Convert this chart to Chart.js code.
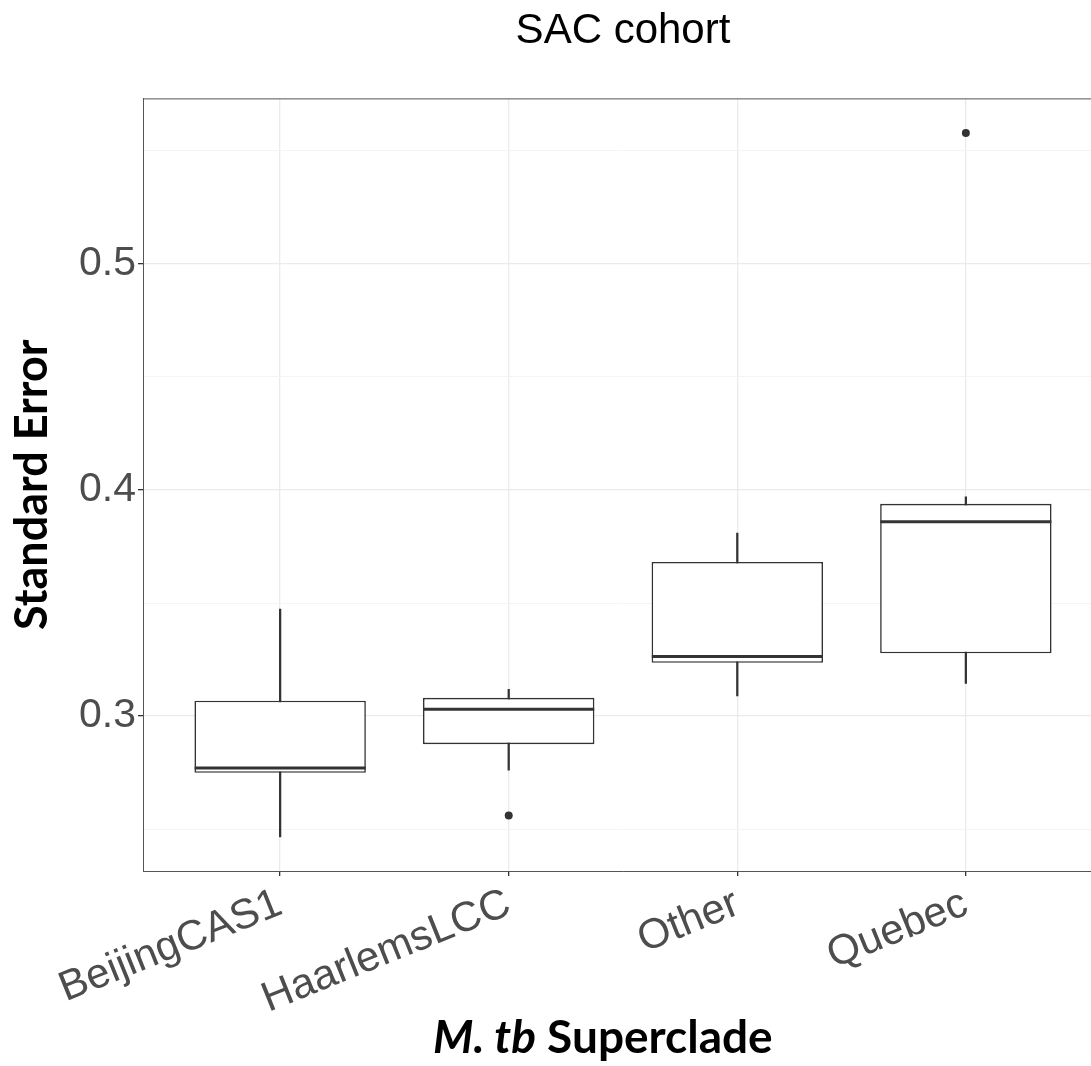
<!DOCTYPE html>
<html>
<head>
<meta charset="utf-8">
<title>SAC cohort</title>
<script src="https://cdn.jsdelivr.net/npm/chart.js@4/dist/chart.umd.min.js"></script>
<style>
  html, body { margin: 0; padding: 0; background: #fff; overflow: hidden; }
  #frame { position: relative; width: 1091px; height: 1066px; overflow: hidden; }
  /* panel runs a little past the right edge of the page */
  #wrap { position: absolute; left: 0; top: 0; width: 1103px; height: 1066px; }
  #xTitle {
    position: absolute; left: 433px; top: 1008px;
    font-family: Lato, "Open Sans", sans-serif; font-weight: bold; font-size: 46px;
    color: #000; white-space: nowrap; line-height: 56px;
  }
</style>
</head>
<body>
<div id="frame">
  <div id="wrap"><canvas id="chart"></canvas></div>
  <div id="xTitle"><i>M. tb</i> Superclade</div>
</div>
<script>
// Superclades and their box-plot summaries (standard error)
const clades = ["BeijingCAS1", "HaarlemsLCC", "Other", "Quebec"];
const lowWhisker = [0.2466, 0.2761, 0.3089, 0.3145];
const q1 = [0.2749, 0.2876, 0.3236, 0.3278];
const medians = [0.2771, 0.3030, 0.3264, 0.3860];
const q3 = [0.3068, 0.3081, 0.3682, 0.3939];
const highWhisker = [0.3473, 0.3118, 0.3809, 0.3970];
// outliers: [clade index, value]
const outliers = [[1, 0.2561], [3, 0.5579]];

const yTicks = [0.25, 0.3, 0.35, 0.4, 0.45, 0.5, 0.55];
const yMajor = [0.3, 0.4, 0.5];

const ink = "#333333";
const pos = clades.map((c, i) => i + 1);

const isMajor = v => yMajor.some(m => Math.abs(m - v) < 1e-9);

new Chart(document.getElementById("chart"), {
  type: "bar",
  data: {
    datasets: [
      {
        // whiskers, behind the boxes
        type: "bar",
        data: pos.map((x, i) => ({ x: x, y: [lowWhisker[i], highWhisker[i]] })),
        backgroundColor: ink,
        borderWidth: 0,
        barThickness: 1.6,
        grouped: false,
        order: 3
      },
      {
        // boxes
        type: "bar",
        data: pos.map((x, i) => ({ x: x, y: [q1[i], q3[i]] })),
        backgroundColor: "#ffffff",
        borderColor: ink,
        borderWidth: 1.6,
        borderSkipped: false,
        barPercentage: 0.75,
        categoryPercentage: 1,
        grouped: false,
        order: 2
      },
      {
        // medians
        type: "scatter",
        data: pos.map((x, i) => ({ x: x, y: medians[i] })),
        pointStyle: "line",
        pointRadius: 85.5,
        pointHoverRadius: 85.5,
        borderColor: ink,
        borderWidth: 3,
        order: 1
      },
      {
        type: "scatter",
        data: outliers.map(o => ({ x: pos[o[0]], y: o[1] })),
        pointRadius: 4,
        pointHoverRadius: 4,
        backgroundColor: ink,
        borderColor: ink,
        borderWidth: 0,
        order: 0
      }
    ]
  },
  options: {
    responsive: true,
    maintainAspectRatio: false,
    animation: false,
    layout: { padding: 0, autoPadding: false },
    plugins: {
      legend: { display: false },
      tooltip: { enabled: false },
      title: {
        display: true,
        text: "SAC cohort",
        fullSize: false,
        color: "#000",
        font: { family: "Liberation Sans", size: 42, weight: "normal" },
        padding: { top: 6, bottom: 42 }
      }
    },
    scales: {
      x: {
        type: "linear",
        offset: false,
        min: 0.4,
        max: 4.6,
        afterBuildTicks: s => { s.ticks = pos.map(v => ({ value: v })); },
        afterFit: s => { s.height = 195; s.paddingRight = 0; s.paddingLeft = 0; },
        ticks: {
          autoSkip: false,
          minRotation: 22,
          maxRotation: 22,
          padding: 3,
          color: "#4d4d4d",
          font: { family: "Liberation Sans", size: 42 },
          callback: v => clades[v - 1]
        },
        grid: { offset: false, color: "#ebebeb", lineWidth: 1.3, tickLength: 5, tickColor: ink, tickWidth: 1.3 },
        border: { display: true, color: "#555", width: 1 }
      },
      y: {
        min: 0.2315,
        max: 0.5732,
        afterBuildTicks: s => { s.ticks = yTicks.map(v => ({ value: v })); },
        afterFit: s => { s.width = 143; },
        ticks: {
          padding: 2,
          color: "#4d4d4d",
          font: { family: "Liberation Sans", size: 41 },
          callback: v => isMajor(v) ? v.toFixed(1) : ""
        },
        grid: {
          color: c => isMajor(c.tick.value) ? "#ebebeb" : "#f4f4f4",
          lineWidth: c => isMajor(c.tick.value) ? 1.3 : 1,
          tickLength: 5,
          tickColor: c => isMajor(c.tick.value) ? ink : "rgba(0,0,0,0)",
          tickWidth: 1.3
        },
        border: { display: true, color: "#555", width: 1 },
        title: {
          display: true,
          text: "Standard Error",
          color: "#000",
          font: { family: "Lato", size: 45, weight: "bold" },
          padding: { top: 5, bottom: 0 }
        }
      }
    }
  },
  plugins: [{
    // top edge of the panel frame
    id: "panelTop",
    afterDraw(chart) {
      const a = chart.chartArea, ctx = chart.ctx;
      ctx.save();
      ctx.strokeStyle = "#555";
      ctx.lineWidth = 1;
      ctx.beginPath();
      ctx.moveTo(a.left, a.top + 0.5);
      ctx.lineTo(a.right, a.top + 0.5);
      ctx.stroke();
      ctx.restore();
    }
  }]
});
</script>
</body>
</html>
